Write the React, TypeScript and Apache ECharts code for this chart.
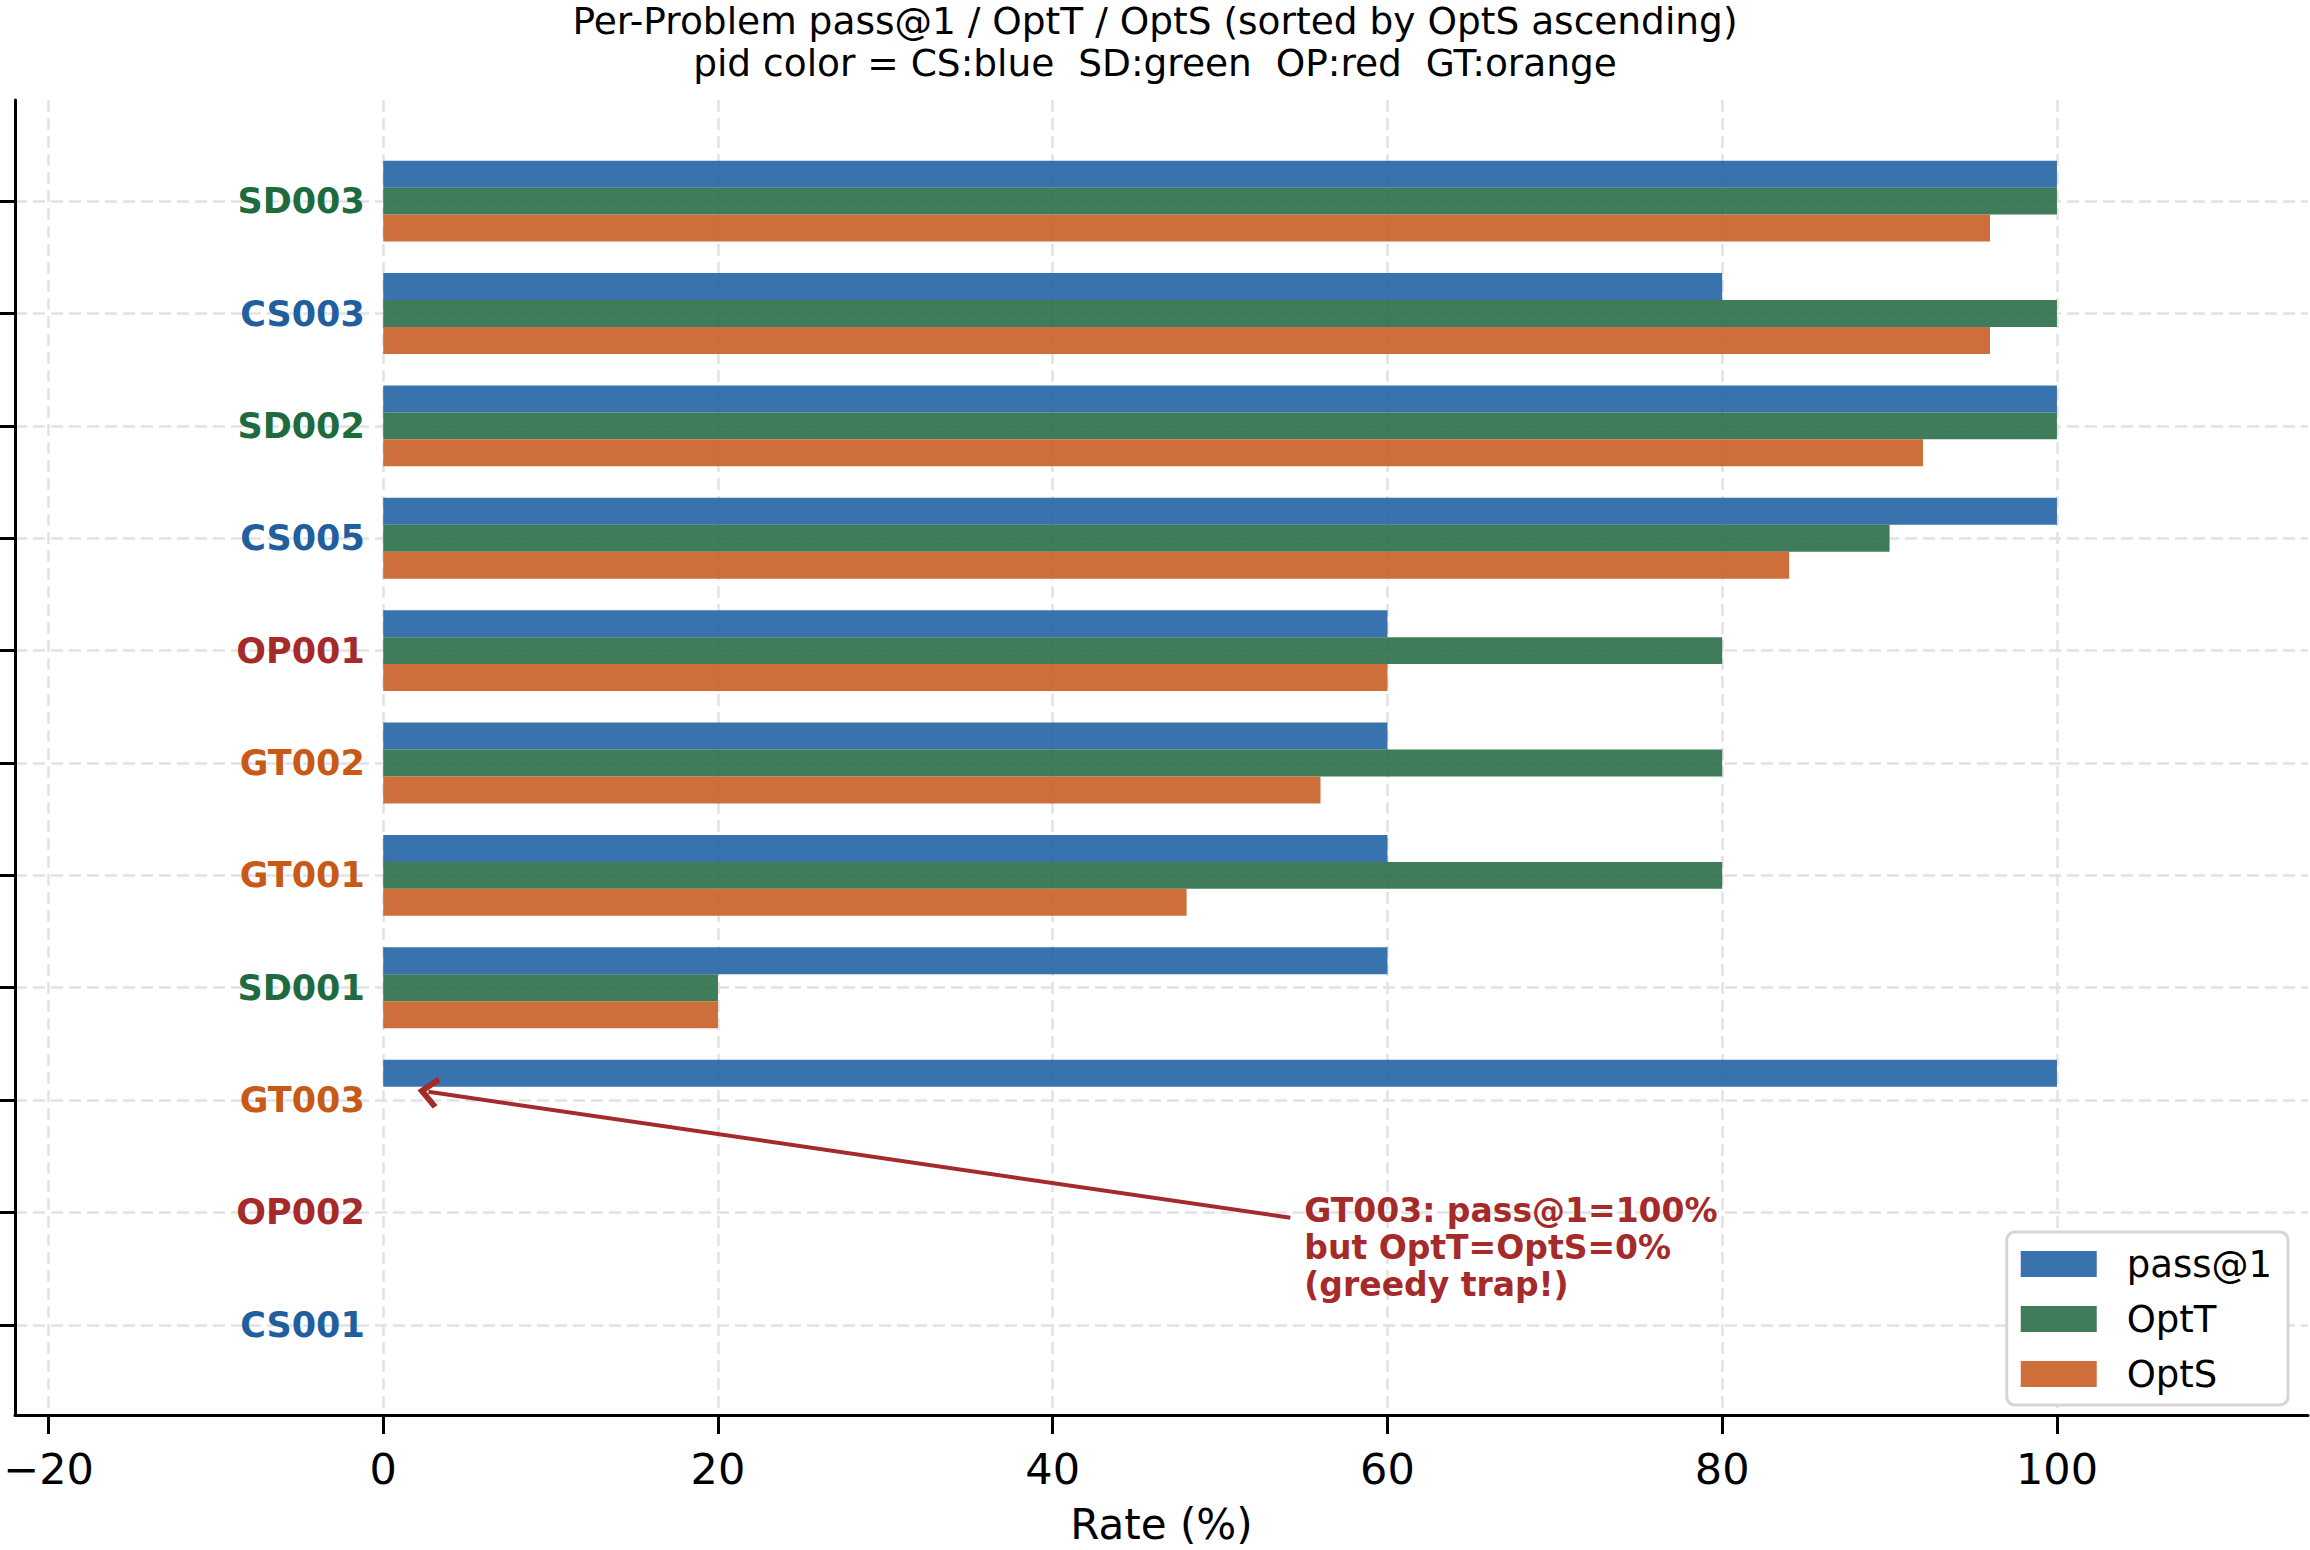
import React, { useEffect, useRef } from "react";
import * as echarts from "echarts";

const W = 2310;
const H = 1550;

// Problems listed bottom-to-top (sorted by OptS ascending)
const categories = ["CS001", "OP002", "GT003", "SD001", "GT001", "GT002", "OP001", "CS005", "SD002", "CS003", "SD003"];
const pass1 = [0, 0, 100, 60, 60, 60, 60, 100, 100, 80, 100];
const optT = [0, 0, 0, 20, 80, 80, 80, 90, 100, 100, 100];
const optS = [0, 0, 0, 20, 48, 56, 60, 84, 92, 96, 96];

const seriesNames = ["pass@1", "OptT", "OptS"];
const seriesColors = ["#2464a4", "#2a6f48", "#c95f26"];
const xTicks = [-20, 0, 20, 40, 60, 80, 100];

const groupColors: Record<string, string> = {
  CS: "#1f5fa0",
  SD: "#1d6b3f",
  OP: "#a52a2a",
  GT: "#c85a18",
};

const X_MIN = -22;
const X_MAX = 115;
const Y_PAD = 0.9;
const FONT = "'DejaVu Sans', sans-serif";
const NOTE_COLOR = "#a52a2a";
const GRID_LINE = { color: "#e2e2e2", width: 2.5, type: [12, 6] as number[] };
// open chevron arrow head, pointing up before rotation
const CHEVRON = "path://M0,0 L12,12 L9,15 L0,6 L-9,15 L-12,12 Z";

export default function App() {
  const ref = useRef<HTMLDivElement>(null);

  useEffect(() => {
    const chart = echarts.init(ref.current!, null, { renderer: "svg" });

    const plot = { left: 15, right: 2, top: 100, bottom: 124 };
    const plotW = W - plot.left - plot.right;
    const plotH = H - plot.top - plot.bottom;
    const n = categories.length;
    const band = plotH / (n - 1 + 2 * Y_PAD);
    const inset = (Y_PAD - 0.5) * band;
    const pxPerUnit = plotW / (X_MAX - X_MIN);
    const labelX = -1.1;

    const target = "GT003";
    const ti = categories.indexOf(target);
    const noteLines = [
      `${target}: pass@1=${pass1[ti]}%`,
      `but OptT=OptS=${optT[ti]}%`,
      "(greedy trap!)",
    ];

    const values = [pass1, optT, optS];

    const rich: Record<string, any> = {};
    Object.keys(groupColors).forEach((k) => {
      rich[k] = { color: groupColors[k], fontSize: 35, fontWeight: "bold", fontFamily: FONT };
    });

    chart.setOption({
      animation: false,
      backgroundColor: "#ffffff",
      textStyle: { fontFamily: FONT },
      title: {
        text: "Per-Problem pass@1 / OptT / OptS (sorted by OptS ascending)\npid color = CS:blue  SD:green  OP:red  GT:orange",
        left: "center",
        top: 0,
        padding: 0,
        textStyle: { fontSize: 37.5, fontWeight: "normal", color: "#000", lineHeight: 42, fontFamily: FONT },
      },
      legend: {
        data: seriesNames,
        orient: "vertical",
        right: 22,
        top: 1232,
        icon: "rect",
        itemWidth: 76,
        itemHeight: 26,
        itemGap: 15,
        backgroundColor: "#ffffff",
        borderColor: "#d6d6d6",
        borderWidth: 3,
        borderRadius: 8,
        padding: [12, 16, 11, 14],
        textStyle: { fontSize: 37, color: "#000", lineHeight: 40, padding: [0, 0, 0, 25], fontFamily: FONT },
      },
      grid: [
        { left: plot.left, right: plot.right, top: plot.top + inset, bottom: plot.bottom + inset },
        { left: plot.left, right: plot.right, top: plot.top, bottom: plot.bottom },
      ],
      xAxis: [
        { gridIndex: 0, type: "value", min: X_MIN, max: X_MAX, show: false },
        {
          gridIndex: 1,
          type: "value",
          min: X_MIN,
          max: X_MAX,
          name: "Rate (%)",
          nameLocation: "middle",
          nameGap: 88,
          nameTextStyle: { fontSize: 42, color: "#000", fontFamily: FONT },
          axisLine: { show: true, onZero: false, lineStyle: { color: "#000", width: 3 } },
          axisTick: { show: true, length: 19, lineStyle: { color: "#000", width: 3 }, customValues: xTicks },
          axisLabel: {
            customValues: xTicks,
            fontSize: 43,
            color: "#000",
            margin: 32,
            fontFamily: FONT,
            formatter: (v: number) => (v < 0 ? "\u2212" + Math.abs(v) : String(v)),
          },
          splitLine: { show: true, lineStyle: GRID_LINE },
        },
      ],
      yAxis: [
        {
          gridIndex: 0,
          type: "category",
          data: categories,
          axisLine: { show: false, onZero: false },
          axisTick: { show: true, alignWithLabel: true, length: 19, lineStyle: { color: "#000", width: 3 } },
          axisLabel: {
            inside: true,
            align: "right",
            margin: (labelX - X_MIN) * pxPerUnit,
            formatter: (v: string) => `{${v.slice(0, 2)}|${v}}`,
            rich,
          },
          splitLine: { show: true, alignWithLabel: true, lineStyle: GRID_LINE },
        },
        {
          gridIndex: 1,
          type: "value",
          min: -Y_PAD,
          max: n - 1 + Y_PAD,
          axisLine: { show: true, onZero: false, lineStyle: { color: "#000", width: 3 } },
          axisTick: { show: false },
          axisLabel: { show: false },
          splitLine: { show: false },
        },
      ],
      series: [
        ...seriesNames.map((name, i) => ({
          name,
          type: "bar",
          xAxisIndex: 0,
          yAxisIndex: 0,
          data: values[i],
          barWidth: "24%",
          barGap: "0%",
          itemStyle: { color: seriesColors[i], opacity: 0.9 },
        })),
        {
          name: "note",
          type: "scatter",
          xAxisIndex: 1,
          yAxisIndex: 1,
          data: [[55, 0.6]],
          symbolSize: 1,
          itemStyle: { color: "rgba(0,0,0,0)", opacity: 1 },
          silent: true,
          label: {
            show: true,
            position: "right",
            distance: 0,
            formatter: noteLines.join("\n"),
            fontSize: 33,
            fontWeight: "bold",
            color: NOTE_COLOR,
            opacity: 1,
            lineHeight: 37,
            fontFamily: FONT,
          },
          markLine: {
            silent: true,
            symbol: ["none", CHEVRON],
            symbolSize: [32, 22],
            label: { show: false },
            lineStyle: { color: NOTE_COLOR, width: 4, type: "solid", opacity: 1 },
            itemStyle: { color: NOTE_COLOR },
            data: [[{ coord: [54.2, 0.87] }, { coord: [2.7, ti] }]],
          },
        },
      ],
    });

    return () => chart.dispose();
  }, []);

  return <div ref={ref} style={{ position: "fixed", left: 0, top: 0, width: W, height: H }} />;
}
